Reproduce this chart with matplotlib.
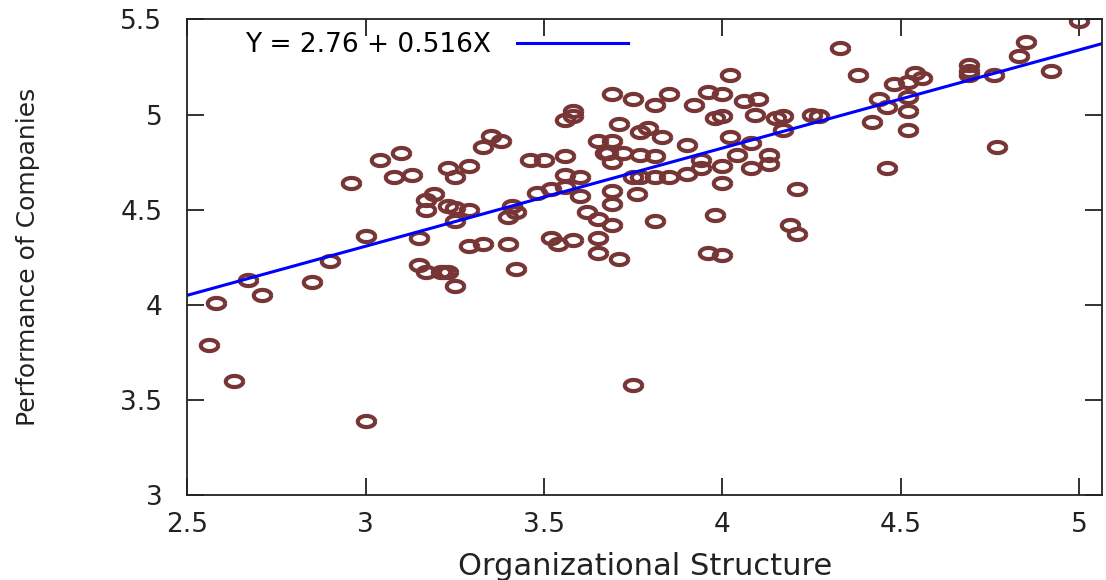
import matplotlib.pyplot as plt
import numpy as np

# Organizational Structure (x) vs Performance of Companies (y)
org_structure = [
    2.56, 2.58, 2.63, 2.67, 2.71, 2.85, 2.90, 2.96, 3.00, 3.00,
    3.04, 3.08, 3.10, 3.13, 3.15, 3.15, 3.17, 3.17, 3.17, 3.19,
    3.21, 3.22, 3.23, 3.23, 3.23, 3.25, 3.25, 3.25, 3.25, 3.29,
    3.29, 3.29, 3.33, 3.33, 3.35, 3.38, 3.40, 3.42, 3.41, 3.40,
    3.42, 3.46, 3.50, 3.48, 3.52, 3.52, 3.54, 3.56, 3.56, 3.58,
    3.58, 3.56, 3.56, 3.58, 3.60, 3.60, 3.62, 3.65, 3.65, 3.65,
    3.65, 3.67, 3.68, 3.69, 3.69, 3.69, 3.69, 3.69, 3.69, 3.71,
    3.72, 3.71, 3.75, 3.75, 3.76, 3.75, 3.77, 3.79, 3.77, 3.77,
    3.81, 3.81, 3.83, 3.81, 3.81, 3.85, 3.85, 3.90, 3.90, 3.92,
    3.94, 3.94, 3.96, 4.00, 4.02, 3.98, 4.00, 4.00, 4.00, 3.98,
    3.96, 4.00, 4.02, 4.04, 4.06, 4.10, 4.09, 4.08, 4.08, 4.13,
    4.13, 4.15, 4.17, 4.17, 4.19, 4.21, 4.21, 4.25, 4.27, 4.33,
    4.38, 4.42, 4.44, 4.46, 4.46, 4.48, 4.52, 4.54, 4.56, 4.52,
    4.52, 4.52, 4.69, 4.69, 4.69, 4.76, 4.77, 4.83, 4.85, 4.92,
    5.00,
]
performance = [
    3.79, 4.01, 3.60, 4.13, 4.05, 4.12, 4.23, 4.64, 4.36, 3.39,
    4.76, 4.67, 4.80, 4.68, 4.35, 4.21, 4.55, 4.50, 4.17, 4.58,
    4.17, 4.17, 4.17, 4.72, 4.52, 4.67, 4.51, 4.44, 4.10, 4.73,
    4.50, 4.31, 4.32, 4.83, 4.89, 4.86, 4.32, 4.19, 4.52, 4.46,
    4.49, 4.76, 4.76, 4.59, 4.61, 4.35, 4.32, 4.78, 4.97, 5.02,
    4.99, 4.68, 4.62, 4.34, 4.67, 4.57, 4.49, 4.86, 4.45, 4.35,
    4.27, 4.80, 4.80, 4.86, 4.75, 4.60, 4.53, 4.42, 5.11, 4.95,
    4.80, 4.24, 5.08, 4.67, 4.58, 3.58, 4.91, 4.93, 4.79, 4.67,
    4.78, 5.05, 4.88, 4.67, 4.44, 5.11, 4.67, 4.84, 4.69, 5.05,
    4.76, 4.72, 5.12, 5.11, 5.21, 4.98, 4.99, 4.73, 4.64, 4.47,
    4.27, 4.26, 4.88, 4.79, 5.07, 5.08, 5.00, 4.85, 4.72, 4.79,
    4.74, 4.98, 4.99, 4.92, 4.42, 4.37, 4.61, 5.00, 4.99, 5.35,
    5.21, 4.96, 5.08, 5.04, 4.72, 5.16, 5.17, 5.22, 5.19, 5.09,
    5.02, 4.92, 5.26, 5.23, 5.21, 5.21, 4.83, 5.31, 5.38, 5.23,
    5.49,
]

# fitted line Y = a + bX
intercept = 2.76
slope = 0.516

x_ticks = [2.5, 3, 3.5, 4, 4.5, 5]
y_ticks = [3, 3.5, 4, 4.5, 5, 5.5]

# open ellipse marker (the original picture is stretched sideways)
t = np.linspace(0, 2 * np.pi, 60)
ellipse = np.column_stack([np.cos(t), 0.64 * np.sin(t)])

fig = plt.figure(figsize=(11.06, 5.80), dpi=100)
ax = fig.add_axes([0.1694, 0.1466, 0.827, 0.8198])

ax.plot(org_structure, performance, linestyle='none', marker=ellipse,
        markersize=12.5, markerfacecolor='none', markeredgecolor='#773535',
        markeredgewidth=3.0)

xs = np.array([2.5, 5.064])
ax.plot(xs, intercept + slope * xs, color='#0000ff', linewidth=2.2,
        label='Y = %.2f + %.3fX' % (intercept, slope))

ax.set_xlim(2.5, 5.064)
ax.set_ylim(3, 5.5)
ax.set_xticks(x_ticks)
ax.set_yticks(y_ticks)
ax.set_xticklabels(['%g' % v for v in x_ticks])
ax.set_yticklabels(['%g' % v for v in y_ticks])
ax.tick_params(direction='in', length=12, width=1.3, top=True, right=True,
               labelsize=19, colors='#222222')
ax.tick_params(axis='x', pad=12)
ax.tick_params(axis='y', pad=18)
for s in ax.spines.values():
    s.set_linewidth(1.3)
    s.set_color('#222222')

ax.set_xlabel('Organizational Structure', fontsize=22, labelpad=10, color='#222222')
ax.set_ylabel('Performance of Companies', fontsize=18, labelpad=58, color='#222222')

ax.legend(loc='center left', bbox_to_anchor=(0.063, 0.946), frameon=False,
          markerfirst=False, handlelength=4.2, handletextpad=1.0,
          borderpad=0, borderaxespad=0, fontsize=19)

plt.savefig('out.png', dpi=100)
